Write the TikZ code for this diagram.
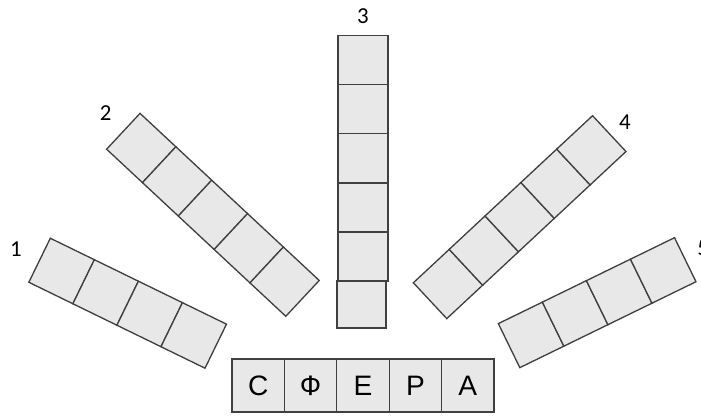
\documentclass[tikz,border=0pt]{standalone}
\usepackage{fontspec}
\setmainfont{Liberation Sans}
\newfontfamily\numfont{Carlito}
\usetikzlibrary{positioning}
\definecolor{cellfill}{RGB}{232,232,232}
\definecolor{cellline}{RGB}{64,64,64}

\begin{document}
\begin{tikzpicture}[
  cell/.style={draw=cellline, fill=cellfill, line width=0.75pt, minimum size=0.98cm, inner sep=0pt, outer sep=0pt},
  letter/.style={cell, minimum width=1.048cm, minimum height=1.06cm, font=\fontsize{16}{19}\selectfont},
  num/.style={font=\numfont\fontsize{13}{15}\selectfont, inner sep=0pt}]

  \useasboundingbox (0,0) rectangle (14.02,8.32);

  % strip 1
  \node[cell, rotate=-26] (a1) at (1.232,2.900) {};
  \node[cell, rotate=-26, anchor=west] (a2) at (a1.east) {};
  \node[cell, rotate=-26, anchor=west] (a3) at (a2.east) {};
  \node[cell, rotate=-26, anchor=west] (a4) at (a3.east) {};

  % strip 2
  \node[cell, rotate=-43] (b1) at (2.825,5.360) {};
  \node[cell, rotate=-43, anchor=west] (b2) at (b1.east) {};
  \node[cell, rotate=-43, anchor=west] (b3) at (b2.east) {};
  \node[cell, rotate=-43, anchor=west] (b4) at (b3.east) {};
  \node[cell, rotate=-43, anchor=west] (b5) at (b4.east) {};

  % strip 3
  \node[cell, minimum width=1cm, minimum height=0.984cm] (c1) at (7.26,7.122) {};
  \node[cell, minimum width=1cm, minimum height=0.984cm, below=0pt of c1] (c2) {};
  \node[cell, minimum width=1cm, minimum height=0.984cm, below=0pt of c2] (c3) {};
  \node[cell, minimum width=1cm, minimum height=0.984cm, below=0pt of c3] (c4) {};
  \node[cell, minimum width=1cm, minimum height=0.984cm, below=0pt of c4] (c5) {};
  \node[cell, minimum width=0.98cm, minimum height=0.94cm] (c6) at (7.23,2.23) {};

  % strip 4
  \node[cell, rotate=43] (d1) at (8.96,2.64) {};
  \node[cell, rotate=43, anchor=west] (d2) at (d1.east) {};
  \node[cell, rotate=43, anchor=west] (d3) at (d2.east) {};
  \node[cell, rotate=43, anchor=west] (d4) at (d3.east) {};
  \node[cell, rotate=43, anchor=west] (d5) at (d4.east) {};

  % strip 5
  \node[cell, rotate=26] (e1) at (10.622,1.622) {};
  \node[cell, rotate=26, anchor=west] (e2) at (e1.east) {};
  \node[cell, rotate=26, anchor=west] (e3) at (e2.east) {};
  \node[cell, rotate=26, anchor=west] (e4) at (e3.east) {};

  % word
  \node[letter] (w1) at (5.164,0.61) {С};
  \node[letter, right=0pt of w1] (w2) {Ф};
  \node[letter, right=0pt of w2] (w3) {Е};
  \node[letter, right=0pt of w3] (w4) {Р};
  \node[letter, right=0pt of w4] (w5) {А};

  % numbers
  \node[num] (n1) at (0.32,3.34) {1};
  \node[num] (n2) at (2.114,6.06) {2};
  \node[num] (n3) at (7.26,8.00) {3};
  \node[num] (n4) at (12.5,5.88) {4};
  \node[num, anchor=west] (n5) at (13.94,3.36) {5};

\end{tikzpicture}
\end{document}
